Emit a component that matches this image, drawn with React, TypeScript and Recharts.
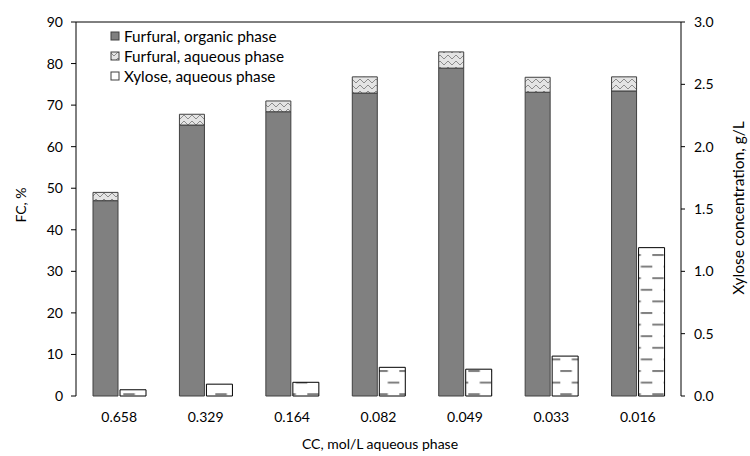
import React from "react";
import {
  BarChart,
  Bar,
  XAxis,
  YAxis,
  Legend,
  ReferenceLine,
} from "recharts";

const categories = ["0.658", "0.329", "0.164", "0.082", "0.049", "0.033", "0.016"];
const furfuralOrganic = [47.0, 65.2, 68.4, 72.9, 78.9, 73.1, 73.4];
const furfuralAqueous = [2.0, 2.6, 2.6, 3.9, 3.9, 3.6, 3.4];
const xylose = [0.05, 0.095, 0.11, 0.23, 0.215, 0.32, 1.19];
const leftTicks = [0, 10, 20, 30, 40, 50, 60, 70, 80, 90];
const rightTicks = [0, 0.5, 1, 1.5, 2, 2.5, 3];
const seriesNames = ["Furfural, organic phase", "Furfural, aqueous phase", "Xylose, aqueous phase"];

const FONT = 'Lato, "Liberation Sans", sans-serif';

const data = categories.map((cc, i) => ({
  cc,
  organic: furfuralOrganic[i],
  aqueous: furfuralAqueous[i],
  xylose: xylose[i],
}));

// keep the legend in series order, not alphabetical
const renderLegend = (props: any) => {
  const items = [...props.payload].sort(
    (a: any, b: any) => seriesNames.indexOf(a.value) - seriesNames.indexOf(b.value)
  );
  return (
    <div style={{ fontFamily: FONT, fontSize: 15.3, color: "#000" }}>
      {items.map((entry: any) => (
        <div
          key={entry.value}
          style={{ display: "flex", alignItems: "center", height: 20, whiteSpace: "nowrap" }}
        >
          <svg width={10} height={10} style={{ marginRight: 4 }}>
            <rect x={1} y={1} width={8} height={8} fill={entry.color} stroke="#404040" />
          </svg>
          {entry.value}
        </div>
      ))}
    </div>
  );
};

const titleStyle: React.CSSProperties = {
  position: "absolute",
  fontFamily: FONT,
  fontSize: 14,
  color: "#000",
  whiteSpace: "nowrap",
};

const tickStyle = { fontFamily: FONT, fontSize: 14, fill: "#000" };

export default function App() {
  return (
    <div style={{ position: "absolute", left: 0, top: 0, width: 750, height: 456, background: "#fff" }}>
      <BarChart
        width={750}
        height={456}
        data={data}
        margin={{ top: 22, right: 19, bottom: 20, left: 26 }}
        barGap={2}
      >
        <defs>
          <pattern id="aqHatch" patternUnits="userSpaceOnUse" width={8} height={6}>
            <rect width={8} height={6} fill="#e4e4e4" />
            <polyline points="0,1 4,5 8,1" fill="none" stroke="#8c8c8c" strokeWidth={1} />
          </pattern>
          <pattern id="xyDash" patternUnits="userSpaceOnUse" x={8.3} y={-1.2} width={23} height={23.2}>
            <rect width={23} height={23.2} fill="#fff" />
            <rect x={0} y={0} width={11.5} height={2} fill="#808080" />
            <rect x={11.5} y={11.6} width={11.5} height={2} fill="#808080" />
          </pattern>
        </defs>
        <XAxis
          dataKey="cc"
          axisLine={false}
          tickLine={false}
          tickMargin={10}
          height={40}
          tick={tickStyle}
        />
        <YAxis
          yAxisId="left"
          domain={[0, 90]}
          ticks={leftTicks}
          width={50}
          tickSize={5}
          tickMargin={8}
          stroke="#000"
          tick={tickStyle}
        />
        <YAxis
          yAxisId="right"
          orientation="right"
          domain={[0, 3]}
          ticks={rightTicks}
          tickFormatter={(v: number) => v.toFixed(1)}
          width={50}
          tickSize={4}
          tickMargin={9}
          stroke="#000"
          tick={tickStyle}
        />
        <ReferenceLine yAxisId="left" y={90} stroke="#000" />
        <Legend
          layout="vertical"
          align="center"
          verticalAlign="middle"
          content={renderLegend}
          wrapperStyle={{ left: 110, top: 26, width: 240 }}
        />
        <Bar
          yAxisId="left"
          dataKey="organic"
          name={seriesNames[0]}
          stackId="f"
          barSize={25}
          fill="#808080"
          stroke="#404040"
          isAnimationActive={false}
        />
        <Bar
          yAxisId="left"
          dataKey="aqueous"
          name={seriesNames[1]}
          stackId="f"
          barSize={25}
          fill="url(#aqHatch)"
          stroke="#404040"
          isAnimationActive={false}
        />
        <Bar
          yAxisId="right"
          dataKey="xylose"
          name={seriesNames[2]}
          barSize={26}
          fill="url(#xyDash)"
          stroke="#000"
          isAnimationActive={false}
        />
      </BarChart>
      <div style={{ ...titleStyle, left: 20, top: 205, transform: "translate(-50%, -50%) rotate(-90deg)" }}>
        FC, %
      </div>
      <div
        style={{
          ...titleStyle,
          fontSize: 15.5,
          left: 738,
          top: 208,
          transform: "translate(-50%, -50%) rotate(-90deg)",
        }}
      >
        Xylose concentration, g/L
      </div>
      <div style={{ ...titleStyle, left: 380, top: 443, transform: "translate(-50%, -50%)" }}>
        CC, mol/L aqueous phase
      </div>
    </div>
  );
}
